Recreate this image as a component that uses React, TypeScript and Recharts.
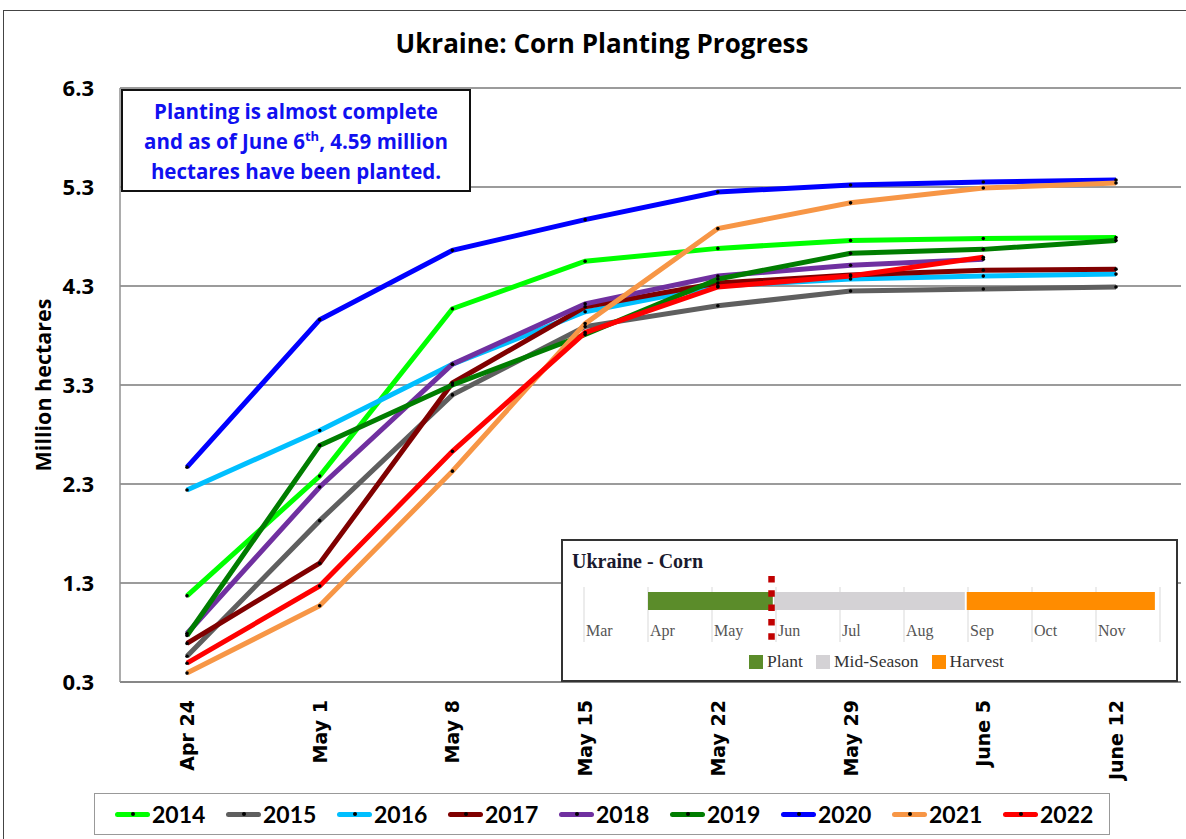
import { LineChart, Line, XAxis, YAxis, CartesianGrid, Label, BarChart, Bar, ReferenceLine } from 'recharts'

const weeks = ['Apr 24', 'May 1', 'May 8', 'May 15', 'May 22', 'May 29', 'June 5', 'June 12']
const yTicks = [0.3, 1.3, 2.3, 3.3, 4.3, 5.3, 6.3]

const years = ['2014', '2015', '2016', '2017', '2018', '2019', '2020', '2021', '2022']
const yearColors = ['#00ff00', '#5f5f5f', '#00bfff', '#800000', '#7030a0', '#007d00', '#0000ff', '#f79646', '#ff0000']

const y2014 = [1.17, 2.38, 4.07, 4.55, 4.68, 4.76, 4.78, 4.79]
const y2015 = [0.56, 1.93, 3.2, 3.89, 4.1, 4.25, 4.27, 4.29]
const y2016 = [2.24, 2.84, 3.51, 4.04, 4.3, 4.37, 4.4, 4.42]
const y2017 = [0.69, 1.5, 3.32, 4.09, 4.33, 4.41, 4.46, 4.47]
const y2018 = [0.79, 2.27, 3.51, 4.12, 4.4, 4.51, 4.57, null]
const y2019 = [0.77, 2.69, 3.3, 3.81, 4.37, 4.63, 4.67, 4.76]
const y2020 = [2.47, 3.96, 4.66, 4.97, 5.25, 5.32, 5.35, 5.37]
const y2021 = [0.39, 1.07, 2.43, 3.92, 4.88, 5.14, 5.29, 5.34]
const y2022 = [0.49, 1.27, 2.63, 3.83, 4.29, 4.4, 4.59, null]
const seriesValues = [y2014, y2015, y2016, y2017, y2018, y2019, y2020, y2021, y2022]

// inset crop calendar (month index, Mar = 0)
const months = ['Mar', 'Apr', 'May', 'Jun', 'Jul', 'Aug', 'Sep', 'Oct', 'Nov']
const stages = ['Plant', 'Mid-Season', 'Harvest']
const stageColors = ['#5b8c2a', '#d4d2d5', '#ff8c00']
const stageStart = [1.0, 2.97, 5.98]
const stageEnd = [2.95, 5.95, 8.92]
const todayMark = 2.93

const rows = weeks.map((w, i) => {
  const row: Record<string, string | number | null> = { date: w }
  years.forEach((y, k) => {
    row[y] = seriesValues[k][i]
  })
  return row
})

const calRow: Record<string, string | number> = { name: 'Corn', base: stageStart[0] }
stages.forEach((s, i) => {
  calRow[s] = stageEnd[i] - stageStart[i]
  if (i < stages.length - 1) calRow['gap' + i] = stageStart[i + 1] - stageEnd[i]
})

const sans = '"Open Sans", Lato, sans-serif'
const narrow = 'Lato, "Open Sans", sans-serif'
const serif = '"Liberation Serif", "DejaVu Serif", serif'

function WeekTick({ x, payload }: any) {
  return (
    <text
      transform={`translate(${x},700) rotate(-90)`}
      textAnchor="end"
      dominantBaseline="central"
      fontFamily="DejaVu Sans"
      fontWeight="bold"
      fontSize={19}
      fill="#000"
    >
      {payload.value}
    </text>
  )
}

function MonthTick({ x, y, payload }: any) {
  const label = months[payload.value] ?? ''
  return (
    <g>
      <line x1={x} x2={x} y1={y} y2={y + 16} stroke="#e6e6e6" strokeWidth={1.5} />
      {label && (
        <text x={x + 2} y={y + 10} fontFamily={serif} fontSize={16} fill="#555">
          {label}
        </text>
      )}
    </g>
  )
}

function TodayLine(props: any) {
  const top = Math.min(props.y1, props.y2)
  const bottom = Math.max(props.y1, props.y2)
  return (
    <line
      x1={props.x1}
      x2={props.x2}
      y1={top}
      y2={bottom + 14}
      stroke="#c00000"
      strokeWidth={6.5}
      strokeDasharray="6.5 7.8"
    />
  )
}

function CropCalendar() {
  const segs: string[] = []
  stages.forEach((s, i) => {
    segs.push(s)
    if (i < stages.length - 1) segs.push('gap' + i)
  })
  return (
    <div
      style={{
        position: 'absolute',
        left: 561,
        top: 539,
        width: 617,
        height: 143,
        border: '2px solid #333',
        boxSizing: 'border-box',
        background: '#fff',
      }}
    >
      <div
        style={{
          position: 'absolute',
          left: 9,
          top: 9,
          fontFamily: serif,
          fontWeight: 'bold',
          fontSize: 20,
          color: '#1a1a2e',
          whiteSpace: 'nowrap',
        }}
      >
        Ukraine - Corn
      </div>
      <div style={{ position: 'absolute', left: 0, top: 0 }}>
        <BarChart
          width={613}
          height={139}
          layout="vertical"
          data={[calRow]}
          margin={{ top: 35, right: 16, bottom: 24, left: 21 }}
        >
          <CartesianGrid horizontal={false} y={46} height={39} stroke="#e6e6e6" strokeWidth={1.5} />
          <XAxis
            type="number"
            domain={[0, 9]}
            ticks={[0, 1, 2, 3, 4, 5, 6, 7, 8, 9]}
            height={30}
            axisLine={false}
            tickLine={false}
            tickSize={0}
            tickMargin={0}
            tick={<MonthTick />}
          />
          <YAxis type="category" dataKey="name" hide width={0} />
          <Bar dataKey="base" stackId="a" fill="transparent" barSize={18} isAnimationActive={false} />
          {segs.map((s) => {
            const idx = stages.indexOf(s)
            return (
              <Bar
                key={s}
                dataKey={s}
                stackId="a"
                barSize={18}
                fill={idx >= 0 ? stageColors[idx] : 'transparent'}
                isAnimationActive={false}
              />
            )
          })}
          <ReferenceLine x={todayMark} shape={<TodayLine />} ifOverflow="visible" />
        </BarChart>
      </div>
      <div
        style={{
          position: 'absolute',
          left: 186,
          top: 110,
          display: 'flex',
          gap: 13,
          alignItems: 'center',
          fontFamily: serif,
          fontSize: 17.5,
          color: '#333',
          whiteSpace: 'nowrap',
        }}
      >
        {stages.map((s, i) => (
          <div key={s} style={{ display: 'flex', alignItems: 'center', gap: 4 }}>
            <span style={{ width: 14, height: 14, background: stageColors[i], display: 'inline-block' }} />
            <span>{s}</span>
          </div>
        ))}
      </div>
    </div>
  )
}

export default function App() {
  return (
    <div
      style={{
        position: 'absolute',
        left: 0,
        top: 0,
        width: 1186,
        height: 839,
        overflow: 'hidden',
        background: '#fff',
      }}
    >
      <div
        style={{
          position: 'absolute',
          left: 3,
          top: 10,
          width: 1300,
          height: 900,
          borderLeft: '1.5px solid #444',
          borderTop: '1.5px solid #444',
        }}
      />
      <div
        style={{
          position: 'absolute',
          left: 0,
          width: 1204,
          top: 25,
          textAlign: 'center',
          fontFamily: sans,
          fontWeight: 'bold',
          fontSize: 26,
          color: '#000',
        }}
      >
        Ukraine: Corn Planting Progress
      </div>
      <div style={{ position: 'absolute', left: 0, top: 0 }}>
        <LineChart width={1186} height={839} data={rows} margin={{ top: 88, right: 5, bottom: 47, left: 20 }}>
          <CartesianGrid vertical={false} stroke="#7a7a7a" strokeWidth={1.3} />
          <XAxis
            dataKey="date"
            interval={0}
            padding={{ left: 67, right: 65 }}
            height={110}
            tickLine={false}
            axisLine={{ stroke: '#808080', strokeWidth: 1.5 }}
            tick={<WeekTick />}
          />
          <YAxis
            domain={[0.3, 6.3]}
            ticks={yTicks}
            width={100}
            tickLine={false}
            tickSize={0}
            tickMargin={26}
            axisLine={{ stroke: '#909090', strokeWidth: 1.5 }}
            tick={{ fill: '#000', fontSize: 22, fontWeight: 'bold', fontFamily: sans }}
            tickFormatter={(v: number) => v.toFixed(1)}
          >
            <Label
              content={() => (
                <text
                  x={42}
                  y={385}
                  transform="rotate(-90 42 385)"
                  textAnchor="middle"
                  dominantBaseline="central"
                  fontFamily={sans}
                  fontWeight="bold"
                  fontSize={21.5}
                  fill="#000"
                >
                  Million hectares
                </text>
              )}
            />
          </YAxis>
          <YAxis
            yAxisId="frame"
            orientation="right"
            domain={[0.3, 6.3]}
            width={0}
            tick={false}
            tickLine={false}
            axisLine={{ stroke: '#a0a0a0', strokeWidth: 1.5 }}
          />
          {years.map((y, k) => (
            <Line
              key={y}
              type="linear"
              dataKey={y}
              stroke={yearColors[k]}
              strokeWidth={5}
              dot={{ r: 1.8, fill: '#000', stroke: 'none' }}
              activeDot={false}
              isAnimationActive={false}
            />
          ))}
        </LineChart>
      </div>

      <div
        style={{
          position: 'absolute',
          left: 121,
          top: 89,
          width: 350,
          height: 103,
          border: '2px solid #111',
          boxSizing: 'border-box',
          background: '#fff',
          color: '#1010f0',
          fontFamily: sans,
          fontWeight: 'bold',
          fontSize: 20.5,
          lineHeight: '30px',
          textAlign: 'center',
          paddingTop: 5,
          whiteSpace: 'nowrap',
        }}
      >
        Planting is almost complete
        <br />
        and as of June 6<sup style={{ fontSize: 13, lineHeight: 0 }}>th</sup>, 4.59 million
        <br />
        hectares have been planted.
      </div>

      <CropCalendar />

      <div
        style={{
          position: 'absolute',
          left: 94,
          top: 793,
          width: 1016,
          height: 42,
          border: '1.5px solid #999',
          boxSizing: 'border-box',
          display: 'flex',
          alignItems: 'center',
          paddingLeft: 20,
          fontFamily: narrow,
          fontWeight: 'bold',
          fontSize: 23,
        }}
      >
        {years.map((y, k) => (
          <div key={y} style={{ width: 111, display: 'flex', alignItems: 'center', flexShrink: 0 }}>
            <span
              style={{
                position: 'relative',
                width: 35,
                height: 5,
                borderRadius: 3,
                background: yearColors[k],
                display: 'inline-block',
                marginRight: 2,
              }}
            >
              <span
                style={{
                  position: 'absolute',
                  left: 16,
                  top: 0.5,
                  width: 4,
                  height: 4,
                  borderRadius: 2,
                  background: '#000',
                }}
              />
            </span>
            <span>{y}</span>
          </div>
        ))}
      </div>
    </div>
  )
}
